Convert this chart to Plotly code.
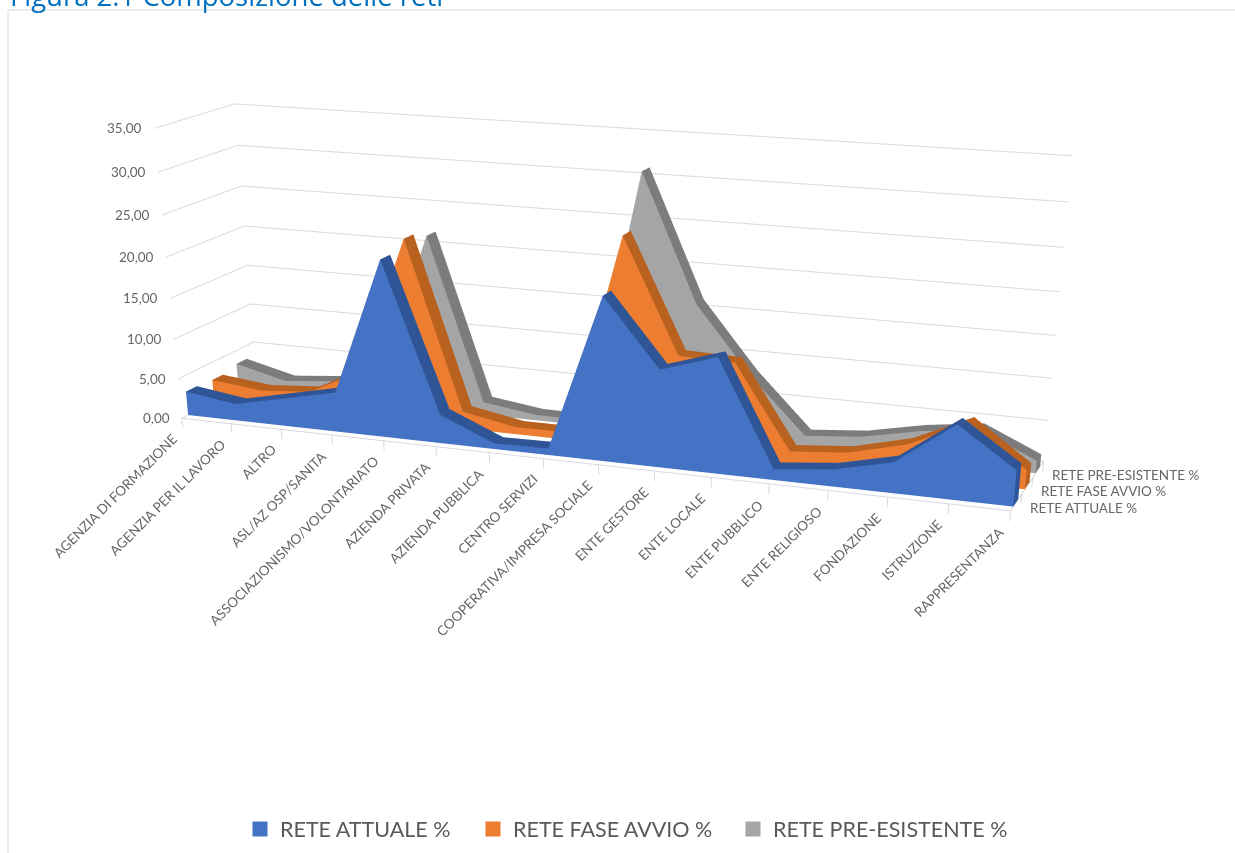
import plotly.graph_objects as go

categories = ["AGENZIA DI FORMAZIONE", "AGENZIA PER IL LAVORO", "ALTRO", "ASL/AZ OSP/SANITA",
              "ASSOCIAZIONISMO/VOLONTARIATO", "AZIENDA PRIVATA", "AZIENDA PUBBLICA", "CENTRO SERVIZI",
              "COOPERATIVA/IMPRESA SOCIALE", "ENTE GESTORE", "ENTE LOCALE", "ENTE PUBBLICO",
              "ENTE RELIGIOSO", "FONDAZIONE", "ISTRUZIONE", "RAPPRESENTANZA"]
rete_attuale = [3.0, 2.1, 3.5, 4.9, 21.5, 3.5, 0.7, 0.8, 19.5, 11.6, 13.7, 1.3, 2.0, 3.6, 8.7, 4.2]
rete_avvio = [2.8, 2.1, 2.6, 5.8, 22.6, 2.1, 0.9, 0.9, 25.0, 11.6, 11.4, 1.5, 2.1, 3.8, 7.0, 2.3]
rete_pre = [3.3, 1.7, 2.3, 3.7, 21.7, 1.6, 0.7, 0.6, 31.1, 16.2, 8.2, 1.6, 2.2, 3.6, 4.5, 1.5]
series_names = ["RETE ATTUALE %", "RETE FASE AVVIO %", "RETE PRE-ESISTENTE %"]
value_ticks = [0, 5, 10, 15, 20, 25, 30, 35]

face_colors = ["#4472c4", "#ed7d31", "#a5a5a5"]
ridge_colors = ["#2f5597", "#b9621f", "#7c7c7c"]
depth_slots = [(0.08, 0.22), (0.42, 0.56), (0.75, 0.89)]

X_RANGE = [-0.5, 15.5]
Y_RANGE = [-0.1, 1.05]
Z_RANGE = [-2, 37]
WIDTH = 1235
# The tall canvas narrows the scene's field of view; only its upper part holds content.
HEIGHT = 1830

fig = go.Figure()


def add_ribbon(values, y_front, y_back, face, ridge, name):
    """One 3D area: a flat front face, plus a darker top strip and right end cap."""
    n = len(values)
    columns = list(range(n))
    xs = columns * 4
    ys = [y_front] * (2 * n) + [y_back] * (2 * n)
    zs = [0] * n + list(values) + [0] * n + list(values)
    flat = dict(lighting=dict(ambient=1, diffuse=0, specular=0, fresnel=0, roughness=1),
                flatshading=True, hoverinfo="skip", showscale=False, showlegend=False)

    i, j, k = [], [], []
    for a in range(n - 1):
        i += [a, a]
        j += [a + 1, a + 1 + n]
        k += [a + 1 + n, a + n]
    fig.add_trace(go.Mesh3d(x=xs, y=ys, z=zs, i=i, j=j, k=k, color=face, name=name, **flat))

    i, j, k = [], [], []
    for a in range(n - 1):
        i += [a + n, a + n]
        j += [a + 1 + n, a + 1 + 3 * n]
        k += [a + 1 + 3 * n, a + 3 * n]
    last = n - 1
    i += [last, last]
    j += [last + 2 * n, last + 3 * n]
    k += [last + 3 * n, last + n]
    fig.add_trace(go.Mesh3d(x=xs, y=ys, z=zs, i=i, j=j, k=k, color=ridge, **flat))


all_series = [rete_attuale, rete_avvio, rete_pre]
for vals, (y0, y1), fc, rc, nm in zip(all_series, depth_slots, face_colors, ridge_colors, series_names):
    add_ribbon(vals, y0, y1, fc, rc, nm)

# Gridlines on the left and back walls, floor edges, and tick marks.
last_col = len(categories) - 1
gx, gy, gz = [], [], []
for v in value_ticks:
    gx += [0, 0, last_col, None]
    gy += [0, 1, 1, None]
    gz += [v, v, v, None]
gx += [0, last_col, last_col, None]
gy += [0, 0, 1, None]
gz += [0, 0, 0, None]
for c in range(len(categories)):
    gx += [c, c, None]
    gy += [0, 0, None]
    gz += [0, -1.2, None]
for y in (0, 0.33, 0.66, 1):
    gx += [last_col, last_col, None]
    gy += [y, y, None]
    gz += [0, -1.2, None]
fig.add_trace(go.Scatter3d(x=gx, y=gy, z=gz, mode="lines", line=dict(color="#d9d9d9", width=2),
                           hoverinfo="skip", showlegend=False))

# Each legend entry has its own legend so the three can be spaced independently.
legend_ids = ["legend", "legend2", "legend3"]
for nm, fc, lg in zip(series_names, face_colors, legend_ids):
    fig.add_trace(go.Scatter3d(x=[None], y=[None], z=[None], mode="markers",
                               marker=dict(symbol="square", size=15, color=fc), name=nm, legend=lg))

label_font = dict(family="Lato", size=13.5, color="#666666")
scene_labels = []
for v in value_ticks:
    scene_labels.append(dict(x=0, y=0, z=v, text=f"{v:.2f}".replace(".", ","), showarrow=False,
                             xanchor="right", xshift=-10, font=label_font))
for c, t in enumerate(categories):
    scene_labels.append(dict(x=c, y=0, z=-1.2, text=t, showarrow=False, xanchor="right", yanchor="top",
                             textangle=-45, font=label_font))
for nm, (a, b) in zip(series_names, depth_slots):
    scene_labels.append(dict(x=last_col, y=(a + b) / 2, z=0, text=nm, showarrow=False, xanchor="left",
                             xshift=12, yshift=-5, font=label_font))

hidden_axis = dict(visible=False, showgrid=False, zeroline=False, showticklabels=False, showspikes=False)


def legend_at(px):
    return dict(orientation="h", x=px / WIDTH, xanchor="left", y=1 - 829 / HEIGHT, yanchor="middle",
                bgcolor="rgba(0,0,0,0)", font=dict(family="Lato", size=21.5, color="#595959"))


fig.update_layout(
    width=WIDTH, height=HEIGHT, margin=dict(l=0, r=0, t=0, b=0), paper_bgcolor="white",
    scene=dict(
        domain=dict(x=[0, 1], y=[0, 1]),
        aspectmode="manual", aspectratio=dict(x=1, y=0.2002, z=0.3459),
        xaxis=dict(range=X_RANGE, **hidden_axis),
        yaxis=dict(range=Y_RANGE, **hidden_axis),
        zaxis=dict(range=Z_RANGE, **hidden_axis),
        camera=dict(projection=dict(type="perspective"),
                    eye=dict(x=0.8363, y=-2.2045, z=0.5458),
                    center=dict(x=0.1063, y=-0.2283, z=-0.6069)),
        annotations=scene_labels),
    legend=legend_at(240), legend2=legend_at(473), legend3=legend_at(733),
    annotations=[dict(xref="paper", yref="paper", x=8 / WIDTH, y=1 + 5 / HEIGHT, xanchor="left",
                      yanchor="middle", text="Figura 2.1 Composizione delle reti", showarrow=False,
                      font=dict(family="Open Sans", size=27.5, color="#0070c0"))],
    shapes=[dict(type="rect", xref="paper", yref="paper", x0=8 / WIDTH, x1=1.01, y0=-0.01,
                 y1=1 - 10 / HEIGHT, line=dict(color="#d9d9d9", width=1),
                 fillcolor="rgba(0,0,0,0)")])
fig.write_html("out.html")
